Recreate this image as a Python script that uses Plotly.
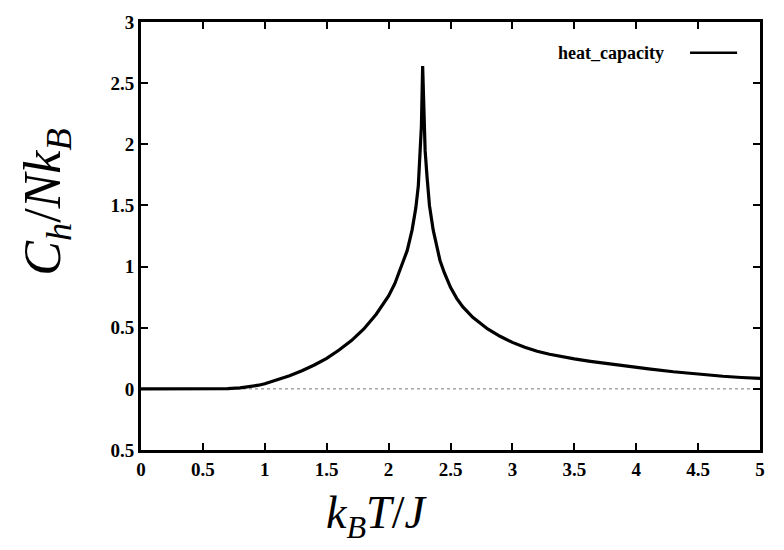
import plotly.graph_objects as go

# Data
temperature = [0.0, 0.3, 0.5, 0.7, 0.8, 0.88, 0.95, 1.0, 1.1, 1.2, 1.3, 1.4, 1.5, 1.6, 1.7, 1.8, 1.9,
               1.95, 2.0, 2.05, 2.1, 2.15, 2.19, 2.22, 2.24, 2.255, 2.265, 2.275, 2.285, 2.295, 2.31,
               2.33, 2.36, 2.39, 2.415, 2.45, 2.5, 2.55, 2.6, 2.68, 2.75, 2.8, 2.9, 3.0, 3.1, 3.2,
               3.3, 3.4, 3.5, 3.63, 3.75, 3.9, 4.1, 4.3, 4.5, 4.7, 4.85, 5.0]
heat_capacity = [0.0, 0.0, 0.0, 0.002, 0.008, 0.018, 0.03, 0.042, 0.072, 0.108, 0.148, 0.195, 0.25, 0.318, 0.395,
                 0.49, 0.61, 0.68, 0.76, 0.86, 0.99, 1.13, 1.3, 1.48, 1.66, 1.9, 2.15, 2.64, 2.15, 1.95,
                 1.74, 1.5, 1.3, 1.15, 1.05, 0.95, 0.83, 0.74, 0.67, 0.585, 0.527, 0.49, 0.43, 0.38, 0.34,
                 0.308, 0.283, 0.262, 0.245, 0.225, 0.208, 0.188, 0.163, 0.14, 0.12, 0.103, 0.093, 0.085]

x_ticks = [0, 0.5, 1, 1.5, 2, 2.5, 3, 3.5, 4, 4.5, 5]
x_ticktext = ["0", "0.5", "1", "1.5", "2", "2.5", "3", "3.5", "4", "4.5", "5"]
y_ticks = [-0.5, 0, 0.5, 1, 1.5, 2, 2.5, 3]
y_ticktext = ["0.5", "0", "0.5", "1", "1.5", "2", "2.5", "3"]
series_name = "heat_capacity"

tick_font = dict(family="Liberation Serif", size=19, color="black", weight="bold")

fig = go.Figure()
fig.add_trace(go.Scatter(
    x=temperature, y=heat_capacity, mode="lines", name=series_name,
    line=dict(color="black", width=3.2), showlegend=False,
))

# dotted zero reference line
fig.add_shape(type="line", xref="paper", yref="y", x0=0, x1=1, y0=0, y1=0,
              line=dict(color="#777", width=1, dash="dot"), layer="below")
# legend sample line (gnuplot style: label left, sample right)
fig.add_shape(type="line", xref="paper", yref="paper", x0=0.887, x1=0.963, y0=0.928, y1=0.928,
              line=dict(color="black", width=2.5))

axis_common = dict(
    showgrid=False, zeroline=False, showline=True, linecolor="black", linewidth=3,
    mirror="ticks", ticks="inside", ticklen=7, tickwidth=1.5, tickcolor="black",
    tickfont=tick_font,
)

fig.update_layout(
    width=784, height=550,
    margin=dict(l=141, r=24, t=18, b=100),
    paper_bgcolor="white", plot_bgcolor="white",
    xaxis=dict(range=[0, 5], tickvals=x_ticks, ticktext=x_ticktext, **axis_common),
    yaxis=dict(range=[-0.5, 3], tickvals=y_ticks, ticktext=y_ticktext, **axis_common),
    showlegend=False,
    annotations=[
        dict(text="<b>" + series_name + "</b>", xref="paper", yref="paper",
             x=0.848, y=0.928, xanchor="right", yanchor="middle", showarrow=False,
             font=dict(family="Liberation Serif", size=18, color="black")),
        dict(text="<i>C<sub>h</sub></i>/<i>Nk<sub>B</sub></i>", xref="paper", yref="paper",
             x=-0.152, y=0.58, xanchor="center", yanchor="middle", textangle=-90,
             showarrow=False, font=dict(family="Liberation Serif", size=52, color="black")),
        dict(text="<i>k<sub>B</sub>T</i>/<i>J</i>", xref="paper", yref="paper",
             x=0.38, y=-0.155, xanchor="center", yanchor="middle",
             showarrow=False, font=dict(family="Liberation Serif", size=46, color="black")),
    ],
)

fig.write_html("out.html")
